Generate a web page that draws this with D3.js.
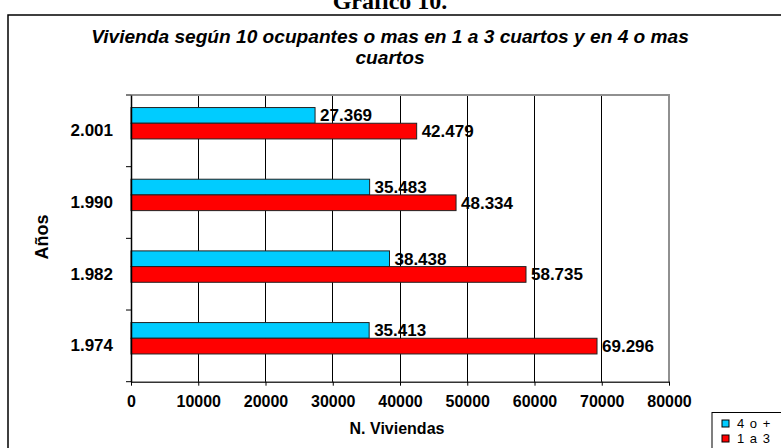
<!DOCTYPE html>
<html>
<head>
<meta charset="utf-8">
<script src="https://cdn.jsdelivr.net/npm/d3@7"></script>
<style>
  html, body { margin: 0; padding: 0; background: #fff; }
  svg { display: block; }
</style>
</head>
<body>
<svg id="chart" width="781" height="448"></svg>
<script>
// ---- data ----
const categories = ["2.001", "1.990", "1.982", "1.974"];
const seriesNames = ["4 o +", "1 a 3"];
const seriesCuatroOMas = [27369, 35483, 38438, 35413];
const seriesUnoATres = [42479, 48334, 58735, 69296];
const xTicks = [0, 10000, 20000, 30000, 40000, 50000, 60000, 70000, 80000];
const colors = ["#00CCFF", "#FF0000"];
const pageTitle = "Gráfico 10.";
const chartTitle = ["Vivienda según 10 ocupantes o mas en 1 a 3 cuartos y en 4 o mas", "cuartos"];
const xTitle = "N. Viviendas";
const yTitle = "Años";

(function () {
const svg = d3.select("#chart");
const font = "Arial, 'Liberation Sans', sans-serif";

// page title (partly cut off at top, as in the reference)
svg.append("text").attr("x", 390).attr("y", 9).attr("text-anchor", "middle")
  .attr("font-family", "'Liberation Serif', 'Times New Roman', serif").attr("font-weight", "bold")
  .attr("font-size", 24).attr("fill", "#000").text(pageTitle);

// outer frame
svg.append("rect").attr("x", 8).attr("y", 15).attr("width", 900).attr("height", 600)
  .attr("fill", "#fff").attr("stroke", "#000").attr("stroke-width", 1.5);

// chart title: fit first line to ~600px
const titleTexts = chartTitle.map((t, i) => svg.append("text").attr("x", 390).attr("y", 43 + i * 21)
  .attr("text-anchor", "middle").attr("font-family", font).attr("font-weight", "bold")
  .attr("font-style", "italic").attr("font-size", 16).attr("fill", "#000").text(t));
const w0 = titleTexts[0].node().getComputedTextLength();
const fs = Math.max(12, Math.min(20, 16 * 598 / w0));
titleTexts.forEach(t => t.attr("font-size", fs));

const pLeft = 131, pRight = 669, pTop = 95, pBottom = 381.7;
const x = d3.scaleLinear().domain([0, 80000]).range([pLeft, pRight]);
const y = d3.scaleBand().domain(categories).range([pTop, pBottom]).paddingInner(0).paddingOuter(0);
const bw = y.bandwidth();
const barH = bw * 0.219;
const barOff = bw * 0.175;

// gridlines
svg.append("g").selectAll("line").data(xTicks.filter(d => d > 0 && d < 80000)).join("line")
  .attr("x1", d => x(d)).attr("x2", d => x(d)).attr("y1", pTop).attr("y2", pBottom)
  .attr("stroke", "#000").attr("stroke-width", 1).attr("shape-rendering", "crispEdges");
// plot border top/right (gray)
svg.append("path").attr("d", `M${pLeft},${pTop}H${pRight}V${pBottom}`)
  .attr("fill", "none").attr("stroke", "#909090").attr("stroke-width", 1.5).attr("shape-rendering", "crispEdges");

// bars
const fmt = d3.formatLocale({decimal: ",", thousands: ".", grouping: [3], currency: ["", ""]}).format(",d");
const series = [seriesCuatroOMas, seriesUnoATres];
series.forEach((vals, si) => {
  const g = svg.append("g");
  g.selectAll("rect").data(vals).join("rect")
    .attr("x", x(0)).attr("y", (d, i) => y(categories[i]) + barOff + si * barH)
    .attr("width", d => x(d) - x(0)).attr("height", barH)
    .attr("fill", colors[si]).attr("stroke", "#222").attr("stroke-width", 1);
  g.selectAll("text").data(vals).join("text")
    .attr("x", d => x(d) + 5).attr("y", (d, i) => y(categories[i]) + barOff + si * barH + barH / 2 + 6)
    .attr("font-family", font).attr("font-weight", "bold").attr("font-size", 17).attr("fill", "#000")
    .text(d => fmt(d));
});

// x axis
const xAxis = d3.axisBottom(x).tickValues(xTicks).tickFormat(d3.format("d")).tickSize(4).tickSizeOuter(0).tickPadding(10);
const gx = svg.append("g").attr("transform", `translate(0,${pBottom})`).call(xAxis);
gx.select(".domain").attr("stroke", "#333").attr("stroke-width", 1.5);
gx.selectAll(".tick line").attr("stroke", "#000");
gx.selectAll(".tick text").attr("font-family", font).attr("font-weight", "bold")
  .attr("font-size", 16).attr("fill", "#000");

// y axis
const yAxis = d3.axisLeft(y).tickSize(0).tickPadding(18);
const gy = svg.append("g").attr("transform", `translate(${pLeft},0)`).call(yAxis);
gy.select(".domain").attr("stroke", "#000").attr("stroke-width", 1.5);
gy.selectAll(".tick text").attr("font-family", font).attr("font-weight", "bold")
  .attr("font-size", 17).attr("fill", "#000");
// tick marks at band boundaries
const boundaries = categories.map(c => y(c)).concat([pBottom]);
svg.append("g").selectAll("line").data(boundaries).join("line")
  .attr("x1", pLeft - 5).attr("x2", pLeft).attr("y1", d => d).attr("y2", d => d)
  .attr("stroke", "#000").attr("stroke-width", 1);

// axis titles
svg.append("text").attr("x", 397).attr("y", 434).attr("text-anchor", "middle")
  .attr("font-family", font).attr("font-weight", "bold").attr("font-size", 16).attr("fill", "#000").text(xTitle);
svg.append("text").attr("transform", "translate(48,237) rotate(-90)").attr("text-anchor", "middle")
  .attr("font-family", font).attr("font-weight", "bold").attr("font-size", 18).attr("fill", "#000").text(yTitle);

// legend
const lg = svg.append("g");
lg.append("rect").attr("x", 712).attr("y", 412.5).attr("width", 120).attr("height", 60)
  .attr("fill", "#fff").attr("stroke", "#000").attr("stroke-width", 1);
seriesNames.forEach((n, i) => {
  lg.append("rect").attr("x", 722).attr("y", 420 + i * 15).attr("width", 7).attr("height", 7)
    .attr("fill", colors[i]).attr("stroke", "#000").attr("stroke-width", 1);
  lg.append("text").attr("x", 737).attr("y", 428 + i * 15)
    .attr("font-family", font).attr("font-size", 13).attr("letter-spacing", 1).attr("fill", "#000").text(n);
});
})();
</script>
</body>
</html>
